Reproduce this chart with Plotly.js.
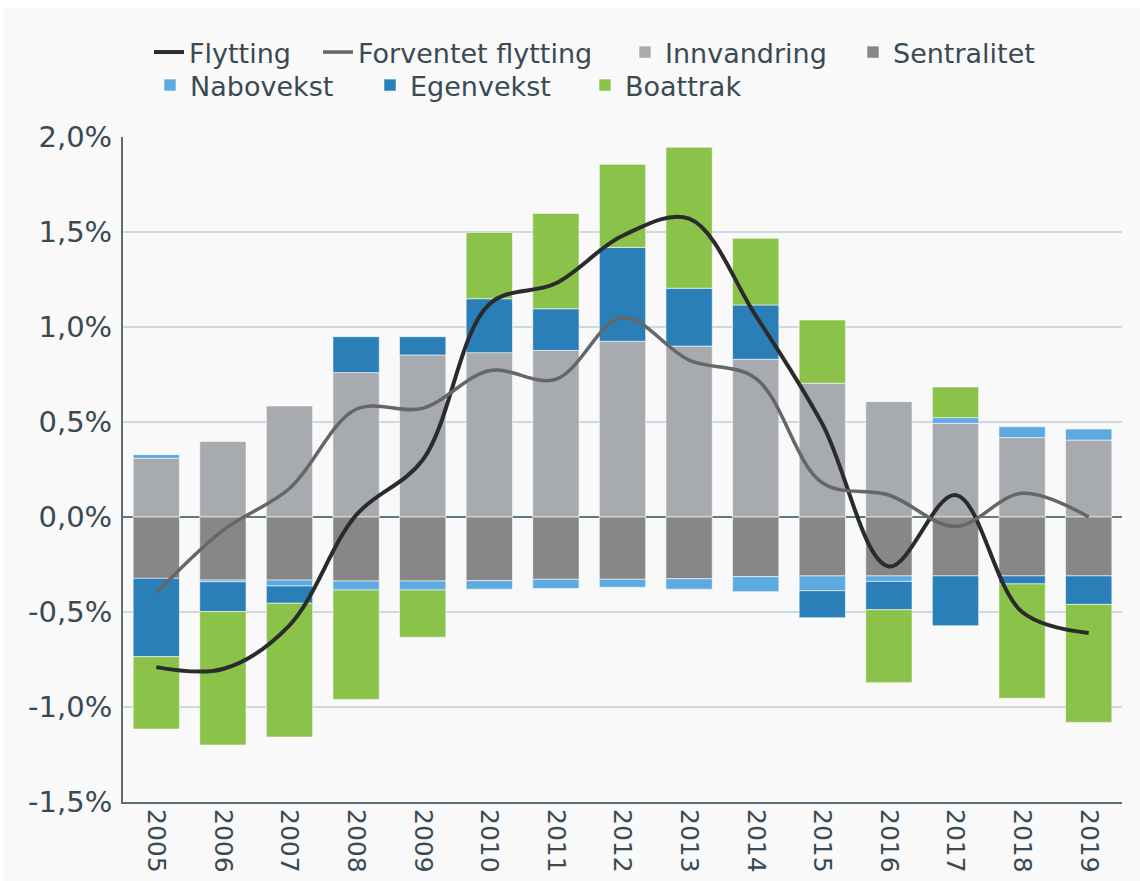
<!DOCTYPE html>
<html>
<head>
<meta charset="utf-8">
<script src="https://cdn.plot.ly/plotly-3.0.1.min.js"></script>
<style>
  html, body { margin: 0; padding: 0; background: #ffffff; width: 1140px; height: 881px; overflow: hidden; }
  #chart { position: absolute; left: 4px; top: 8px; width: 1136px; height: 873px; }
</style>
</head>
<body>
<div id="chart"></div>
<script>
const years = ['2005','2006','2007','2008','2009','2010','2011','2012','2013','2014','2015','2016','2017','2018','2019'];

const flytting           = [-0.79, -0.80, -0.57, 0.01, 0.30, 1.12, 1.23, 1.48, 1.57, 1.06, 0.49, -0.26, 0.116, -0.50, -0.61];
const forventetFlytting  = [-0.40, -0.07, 0.15, 0.567, 0.572, 0.77, 0.725, 1.05, 0.826, 0.73, 0.18, 0.116, -0.05, 0.125, 0.0];

const innvandring = [0.309, 0.397, 0.584, 0.76, 0.853, 0.865, 0.877, 0.925, 0.90, 0.83, 0.704, 0.607, 0.493, 0.418, 0.405];
const sentralitet = [-0.323, -0.332, -0.332, -0.337, -0.337, -0.335, -0.328, -0.328, -0.325, -0.314, -0.31, -0.31, -0.31, -0.31, -0.31];
const nabovekst   = [0.019, -0.009, -0.031, -0.047, -0.047, -0.045, -0.048, -0.042, -0.055, -0.079, -0.078, -0.029, 0.03, 0.057, 0.058];
const egenvekst   = [-0.412, -0.157, -0.091, 0.189, 0.096, 0.284, 0.219, 0.494, 0.304, 0.286, -0.142, -0.149, -0.262, -0.042, -0.15];
const boattrak    = [-0.381, -0.702, -0.704, -0.576, -0.249, 0.349, 0.502, 0.437, 0.742, 0.351, 0.333, -0.384, 0.161, -0.602, -0.621];

const yTickVals   = [-1.5, -1.0, -0.5, 0.0, 0.5, 1.0, 1.5, 2.0];
const yTickLabels = ['-1,5%', '-1,0%', '-0,5%', '0,0%', '0,5%', '1,0%', '1,5%', '2,0%'];

const barLine = { color: 'rgba(255,255,255,0.55)', width: 1 };
function bar(name, y, color, leg) {
  return { type: 'bar', name: name, x: years, y: y, legend: leg,
           marker: { color: color, line: barLine }, hoverinfo: 'skip' };
}
function line(name, y, color, width, leg) {
  return { type: 'scatter', mode: 'lines', name: name, x: years, y: y, legend: leg,
           line: { color: color, width: width, shape: 'spline', smoothing: 1 }, hoverinfo: 'skip' };
}

const data = [
  line('Flytting', flytting, '#2b2b2b', 4, 'legend'),
  line('Forventet flytting', forventetFlytting, '#666666', 3.5, 'legend2'),
  bar('Innvandring', innvandring, '#a7abaf', 'legend3'),
  bar('Sentralitet', sentralitet, '#878787', 'legend4'),
  bar('Nabovekst', nabovekst, '#5caae0', 'legend5'),
  bar('Egenvekst', egenvekst, '#2a7fb8', 'legend6'),
  bar('Boattrak', boattrak, '#8bc34a', 'legend7')
];

const textColor = '#3a4a53';
const H = 873;
function leg(xPage, yPageTop) {
  return {
    orientation: 'h', xref: 'container', yref: 'container',
    x: (xPage - 4) / 1136, y: 1 - (yPageTop - 8) / H, xanchor: 'left', yanchor: 'top',
    font: { size: 27, color: textColor, family: 'DejaVu Sans, Arial, sans-serif' },
    bgcolor: 'rgba(0,0,0,0)', borderwidth: 0
  };
}

const layout = {
  width: 1136, height: H,
  margin: { l: 119, r: 18, t: 129, b: 79, pad: 0 },
  paper_bgcolor: '#f9f9f9',
  plot_bgcolor: '#f9f9f9',
  barmode: 'relative',
  bargap: 0.305,
  showlegend: true,
  font: { family: 'DejaVu Sans, Arial, sans-serif', color: textColor },
  legend:  leg(149, 28),
  legend2: leg(318, 28),
  legend3: leg(625, 28),
  legend4: leg(853, 28),
  legend5: leg(150, 61),
  legend6: leg(370, 61),
  legend7: leg(585, 61),
  xaxis: {
    type: 'category',
    showgrid: false,
    showline: true, linecolor: '#5b6d76', linewidth: 2,
    ticks: '', tickangle: 90,
    tickfont: { size: 25, color: textColor },
    range: [-0.5, 14.5]
  },
  yaxis: {
    range: [-1.5, 2.0],
    tickmode: 'array', tickvals: yTickVals, ticktext: yTickLabels,
    showgrid: true, gridcolor: '#cdd9de', gridwidth: 1.5,
    zeroline: true, zerolinecolor: '#5f7a87', zerolinewidth: 2,
    showline: true, linecolor: '#5b6d76', linewidth: 2,
    ticks: '', ticklabelstandoff: 3,
    tickfont: { size: 29, color: textColor }
  }
};

Plotly.newPlot('chart', data, layout, { displayModeBar: false, staticPlot: true });
</script>
</body>
</html>
